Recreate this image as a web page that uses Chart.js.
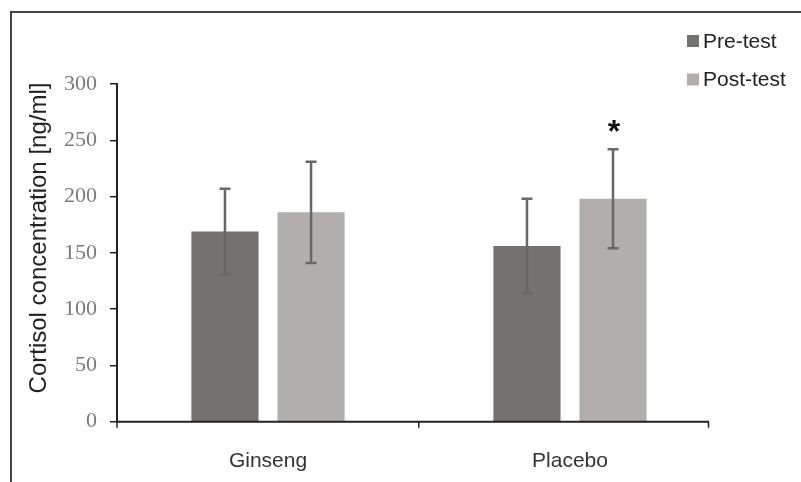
<!DOCTYPE html>
<html>
<head>
<meta charset="utf-8">
<script src="https://cdn.jsdelivr.net/npm/chart.js@4/dist/chart.umd.min.js"></script>
<style>
  html, body { margin: 0; padding: 0; background: #fff; }
  #wrap { width: 801px; height: 482px; }
</style>
</head>
<body>
<div id="wrap"><canvas id="chart" width="801" height="482"></canvas></div>
<script>
const categories = ['Ginseng', 'Placebo'];
const preTest = [169, 156];
const postTest = [186, 198];
const preSD = [38, 42];
const postSD = [45, 44];
// asterisk marks over post-test bars
const postSignificant = [false, true];
const yTicks = [0, 50, 100, 150, 200, 250, 300];
const yTitle = 'Cortisol concentration [ng/ml]';

const preColor = '#75716f';
const postColor = '#b1aeac';
const axisColor = '#222';

// frame lines on top and left of the figure, y title, x axis line
const framePlugin = {
    id: 'frame',
    afterDraw(chart) {
        const ctx = chart.ctx;
        const area = chart.chartArea;
        ctx.save();
        ctx.strokeStyle = '#444';
        ctx.lineWidth = 2;
        ctx.beginPath();
        ctx.moveTo(801, 12);
        ctx.lineTo(11, 12);
        ctx.lineTo(11, 482);
        ctx.stroke();

        // x axis line stops short of the last category edge, as in the original
        const axisEnd = area.right - 12;
        ctx.strokeStyle = axisColor;
        ctx.lineWidth = 2;
        ctx.beginPath();
        ctx.moveTo(area.left - 1, area.bottom);
        ctx.lineTo(axisEnd, area.bottom);
        ctx.stroke();
        ctx.lineWidth = 1.5;
        ctx.beginPath();
        ctx.moveTo(axisEnd - 0.5, area.bottom);
        ctx.lineTo(axisEnd - 0.5, area.bottom + 6);
        ctx.moveTo(area.left, area.bottom);
        ctx.lineTo(area.left, area.bottom + 6);
        ctx.stroke();

        ctx.translate(39, 238);
        ctx.rotate(-Math.PI / 2);
        ctx.fillStyle = '#222';
        ctx.font = '24px "Liberation Sans", Arial, sans-serif';
        ctx.textAlign = 'center';
        ctx.textBaseline = 'middle';
        ctx.fillText(yTitle, 0, 0);
        ctx.restore();
    }
};

const errorBarPlugin = {
    id: 'errorBars',
    afterDatasetsDraw(chart) {
        const ctx = chart.ctx;
        const y = chart.scales.y;
        const sds = [preSD, postSD];
        ctx.save();
        ctx.strokeStyle = '#686868';
        ctx.lineWidth = 2.5;
        chart.data.datasets.forEach((ds, di) => {
            const meta = chart.getDatasetMeta(di);
            meta.data.forEach((bar, i) => {
                const v = ds.data[i];
                const top = y.getPixelForValue(v + sds[di][i]);
                const bot = y.getPixelForValue(v - sds[di][i]);
                ctx.beginPath();
                ctx.moveTo(bar.x, top);
                ctx.lineTo(bar.x, bot);
                ctx.moveTo(bar.x - 5.5, top);
                ctx.lineTo(bar.x + 5.5, top);
                ctx.moveTo(bar.x - 5.5, bot);
                ctx.lineTo(bar.x + 5.5, bot);
                ctx.stroke();
                if (di === 1 && postSignificant[i]) {
                    ctx.fillStyle = '#111';
                    ctx.font = 'bold 32px "Liberation Sans", Arial, sans-serif';
                    ctx.textAlign = 'center';
                    ctx.textBaseline = 'middle';
                    ctx.fillText('*', bar.x + 1, top - 16);
                }
            });
        });
        ctx.restore();
    }
};

const legendPlugin = {
    id: 'customLegend',
    afterDraw(chart) {
        const ctx = chart.ctx;
        ctx.save();
        ctx.font = '21px "Liberation Sans", Arial, sans-serif';
        ctx.textBaseline = 'middle';
        ctx.textAlign = 'left';
        chart.data.datasets.forEach((ds, i) => {
            const cy = 41 + i * 38.5;
            ctx.fillStyle = ds.backgroundColor;
            ctx.fillRect(687, cy - 6, 12, 12);
            ctx.fillStyle = '#222';
            ctx.fillText(ds.label, 703, cy + 1);
        });
        ctx.restore();
    }
};

const ctx = document.getElementById('chart').getContext('2d');
const myChart = new Chart(ctx, {
    type: 'bar',
    data: {
        labels: categories,
        datasets: [{
            label: 'Pre-test',
            data: preTest,
            backgroundColor: preColor,
            barPercentage: 0.78,
            categoryPercentage: 0.57
        }, {
            label: 'Post-test',
            data: postTest,
            backgroundColor: postColor,
            barPercentage: 0.78,
            categoryPercentage: 0.57
        }]
    },
    options: {
        responsive: false,
        animation: false,
        layout: {
            padding: { top: 84, right: 80, bottom: 0, left: 0 }
        },
        plugins: {
            legend: { display: false },
            tooltip: { enabled: false }
        },
        scales: {
            x: {
                grid: {
                    offset: true,
                    drawOnChartArea: false,
                    drawTicks: true,
                    tickLength: 6,
                    // outer edges are drawn by the frame plugin
                    color: (c) => (c.index === 1 ? axisColor : 'rgba(0,0,0,0)'),
                    lineWidth: 1.5
                },
                border: { display: false },
                ticks: {
                    color: '#333',
                    padding: 21,
                    font: { family: '"Liberation Sans", Arial, sans-serif', size: 21 }
                },
                afterFit(scale) { scale.height = 482 - 421.7; }
            },
            y: {
                min: 0,
                max: 300,
                afterBuildTicks(scale) {
                    scale.ticks = yTicks.map(v => ({ value: v }));
                },
                grid: {
                    drawOnChartArea: false,
                    drawTicks: true,
                    tickLength: 7,
                    color: axisColor,
                    lineWidth: 1.5
                },
                border: { display: true, color: axisColor, width: 2 },
                ticks: {
                    color: '#7a7a7a',
                    padding: 13,
                    font: { family: '"Liberation Serif", "Times New Roman", serif', size: 22 }
                },
                afterFit(scale) { scale.width = 117; }
            }
        }
    },
    plugins: [framePlugin, errorBarPlugin, legendPlugin]
});
</script>
</body>
</html>
